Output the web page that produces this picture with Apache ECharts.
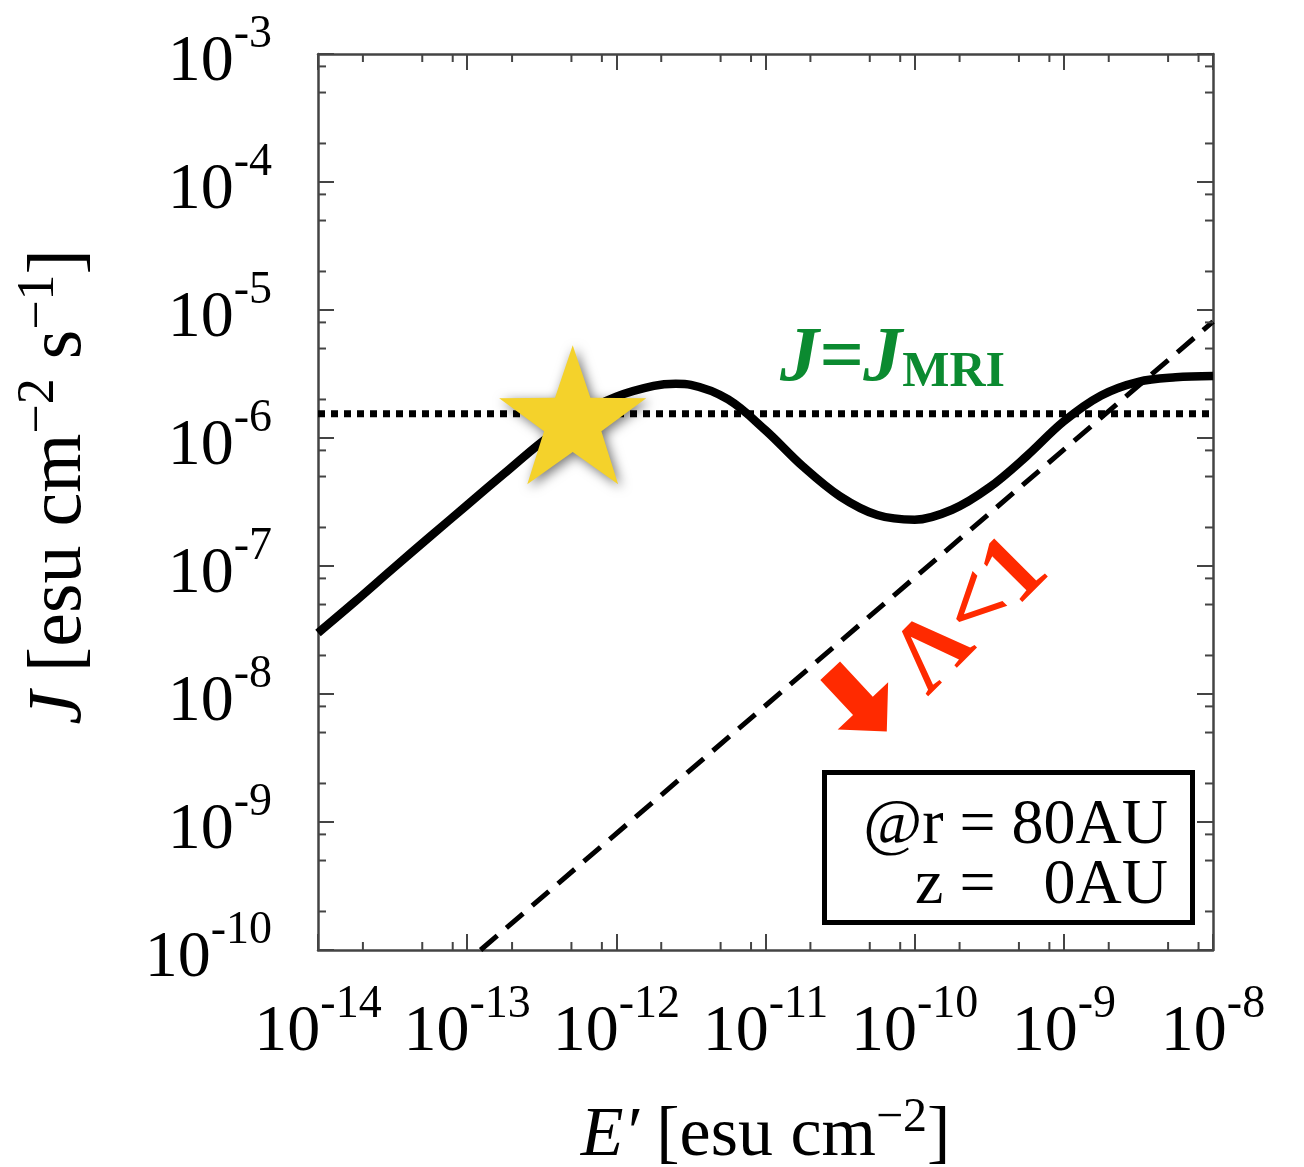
<!DOCTYPE html>
<html>
<head>
<meta charset="utf-8">
<script src="https://cdn.jsdelivr.net/npm/echarts@6/dist/echarts.min.js"></script>
<style>
  html, body { margin: 0; padding: 0; background: #fff; }
  #chart { width: 1304px; height: 1167px; }
</style>
</head>
<body>
<div id="chart"></div>
<script>
// Current density J against field E' at r = 80 AU, z = 0 AU
const E_VALUES = [1e-14, 1.78e-14, 3.16e-14, 5.62e-14, 1e-13, 1.78e-13, 3.16e-13, 5.62e-13,
  1e-12, 1.78e-12, 2.5e-12, 3.16e-12, 5.62e-12, 1e-11, 1.78e-11, 3.16e-11, 5.62e-11,
  1e-10, 1.78e-10, 3.16e-10, 5.62e-10, 1e-9, 1.78e-9, 3.16e-9, 5.62e-9, 1e-8];
const J_VALUES = [3.0e-8, 5.3e-8, 9.5e-8, 1.69e-7, 3.0e-7, 5.3e-7, 9.3e-7, 1.5e-6,
  2.1e-6, 2.55e-6, 2.65e-6, 2.6e-6, 2.0e-6, 1.15e-6, 6.0e-7, 3.5e-7, 2.5e-7,
  2.3e-7, 2.75e-7, 4.1e-7, 7.2e-7, 1.35e-6, 2.15e-6, 2.75e-6, 2.98e-6, 3.05e-6];

// MRI threshold current density
const J_MRI = 1.55e-6;
const MRI_E = [1e-14, 1e-8];

// Lambda = 1 boundary
const LAMBDA1_E = [1.23e-13, 1e-8];
const LAMBDA1_J = [1e-10, 8.1e-6];

// Marked operating point and annotation anchors
const STAR_POINT = [5.1e-13, 1.52e-6];
const ARROW_POINT = [4.2e-11, 8.8e-9];
const LAMBDA_LABEL_POINT = [2.41e-10, 4.0e-8];
const MRI_LABEL_POINT = [7.1e-11, 4.1e-6];

// Axis ranges and minor tick values (2, 5, 8 within each decade)
const X_RANGE = [1e-14, 1e-8];
const Y_RANGE = [1e-10, 1e-3];
const X_MINOR = [2e-14, 5e-14, 8e-14, 2e-13, 5e-13, 8e-13, 2e-12, 5e-12, 8e-12,
  2e-11, 5e-11, 8e-11, 2e-10, 5e-10, 8e-10, 2e-9, 5e-9, 8e-9];
const Y_MINOR = [2e-10, 5e-10, 8e-10, 2e-9, 5e-9, 8e-9, 2e-8, 5e-8, 8e-8,
  2e-7, 5e-7, 8e-7, 2e-6, 5e-6, 8e-6, 2e-5, 5e-5, 8e-5, 2e-4, 5e-4, 8e-4];

const SERIF = '"Liberation Serif", "Times New Roman", serif';
const AXIS_COLOR = '#444';
const RED = '#ff2a00';
const GREEN = '#0b8a30';
const NONE = 'rgba(0,0,0,0)';

function powerLabel(value) {
  const exp = Math.round(Math.log10(value));
  return '{b|10}{s|' + exp + '}';
}

const tickRich = {
  b: { fontFamily: SERIF, fontSize: 66, color: '#000', verticalAlign: 'bottom' },
  s: { fontFamily: SERIF, fontSize: 46, color: '#000', verticalAlign: 'bottom', padding: [0, 0, 38, 0] }
};

function titleRich(size) {
  return {
    t: { fontFamily: SERIF, fontSize: size, color: '#000', verticalAlign: 'bottom' },
    i: { fontFamily: SERIF, fontSize: size, color: '#000', fontStyle: 'italic', verticalAlign: 'bottom' },
    s: { fontFamily: SERIF, fontSize: Math.round(size * 0.68), color: '#000', verticalAlign: 'bottom', padding: [0, 0, Math.round(size * 0.43), 0] }
  };
}

function axisBase(extra) {
  return Object.assign({
    type: 'log',
    logBase: 10,
    interval: 1,
    axisLine: { show: true, onZero: false, lineStyle: { color: AXIS_COLOR, width: 2.5 } },
    axisTick: { show: true, inside: true, length: 16, lineStyle: { color: AXIS_COLOR, width: 2 } },
    minorTick: { show: false },
    splitLine: { show: false }
  }, extra);
}

// Short inward ticks at minor values, drawn on both opposite edges of the plot
function minorTicks(values, dir) {
  return {
    type: 'custom',
    coordinateSystem: 'cartesian2d',
    silent: true,
    clip: false,
    z: 6,
    data: values.map(v => dir === 'x' ? [v, Y_RANGE[0]] : [X_RANGE[0], v]),
    renderItem(params, api) {
      const cs = params.coordSys;
      const p = api.coord([api.value(0), api.value(1)]);
      const L = 8;
      const style = { stroke: AXIS_COLOR, lineWidth: 2 };
      if (dir === 'x') {
        const b = cs.y + cs.height;
        return { type: 'group', children: [
          { type: 'line', shape: { x1: p[0], y1: b, x2: p[0], y2: b - L }, style },
          { type: 'line', shape: { x1: p[0], y1: cs.y, x2: p[0], y2: cs.y + L }, style }
        ] };
      }
      const r = cs.x + cs.width;
      return { type: 'group', children: [
        { type: 'line', shape: { x1: cs.x, y1: p[1], x2: cs.x + L, y2: p[1] }, style },
        { type: 'line', shape: { x1: r, y1: p[1], x2: r - L, y2: p[1] }, style }
      ] };
    }
  };
}

// Five-pointed star outline
function starPath() {
  const pts = [];
  for (let i = 0; i < 10; i++) {
    const a = (-90 + 36 * i) * Math.PI / 180;
    const rad = i % 2 === 0 ? 1 : 0.39;
    pts.push((rad * Math.cos(a)).toFixed(4) + ' ' + (rad * Math.sin(a)).toFixed(4));
  }
  return 'path://M' + pts.join(' L') + ' Z';
}

const ARROW_PATH = 'path://M0 -13.5 L48 -13.5 L48 -34.5 L83 0 L48 34.5 L48 13.5 L0 13.5 Z';

const chart = echarts.init(document.getElementById('chart'), null, { renderer: 'canvas' });

chart.setOption({
  animation: false,
  backgroundColor: '#fff',
  grid: { left: 318, top: 54, right: 91, bottom: 217, containLabel: false, outerBoundsMode: 'none' },
  xAxis: [
    axisBase({
      position: 'bottom',
      min: X_RANGE[0], max: X_RANGE[1],
      axisLabel: { margin: 32, formatter: powerLabel, rich: tickRich },
      name: "{i|E′} {t|[esu cm}{s|−2}{t|]}",
      nameLocation: 'middle',
      nameGap: 144,
      nameTextStyle: { fontFamily: SERIF, fontSize: 70, color: '#000', rich: titleRich(70) }
    }),
    axisBase({
      position: 'top',
      min: X_RANGE[0], max: X_RANGE[1],
      axisLabel: { show: false }
    })
  ],
  yAxis: [
    axisBase({
      position: 'left',
      min: Y_RANGE[0], max: Y_RANGE[1],
      axisLabel: { margin: 46, formatter: powerLabel, rich: tickRich },
      name: "{i|J} {t|[esu cm}{s|−2}{t| s}{s|−1}{t|]}",
      nameLocation: 'middle',
      nameRotate: 90,
      nameGap: 220,
      nameTextStyle: { fontFamily: SERIF, fontSize: 76, color: '#000', rich: titleRich(76), padding: [0, 0, 0, 30] }
    }),
    axisBase({
      position: 'right',
      min: Y_RANGE[0], max: Y_RANGE[1],
      axisLabel: { show: false }
    })
  ],
  series: [
    {
      name: 'J',
      type: 'line',
      data: E_VALUES.map((e, i) => [e, J_VALUES[i]]),
      smooth: 0.35,
      showSymbol: false,
      lineStyle: { color: '#000', width: 8.5 },
      z: 3
    },
    {
      name: 'J_MRI',
      type: 'line',
      data: MRI_E.map(e => [e, J_MRI]),
      showSymbol: false,
      lineStyle: { color: '#000', width: 7, type: [7, 6], cap: 'butt' },
      z: 2
    },
    {
      name: 'Lambda = 1',
      type: 'line',
      data: LAMBDA1_E.map((e, i) => [e, LAMBDA1_J[i]]),
      showSymbol: false,
      lineStyle: { color: '#000', width: 5, type: [22, 12] },
      z: 2
    },
    {
      name: 'star',
      type: 'scatter',
      data: [STAR_POINT],
      symbol: starPath(),
      symbolSize: [147, 139],
      itemStyle: {
        color: '#f4d22b',
        opacity: 1,
        shadowBlur: 12,
        shadowColor: 'rgba(0,0,0,0.55)',
        shadowOffsetX: 3,
        shadowOffsetY: 3
      },
      z: 10
    },
    {
      name: 'arrow',
      type: 'scatter',
      data: [ARROW_POINT],
      symbol: ARROW_PATH,
      symbolSize: [83, 69],
      symbolRotate: -47,
      itemStyle: { color: RED, opacity: 1 },
      z: 10
    },
    {
      name: 'lambda label',
      type: 'scatter',
      data: [LAMBDA_LABEL_POINT],
      symbolSize: 1,
      itemStyle: { color: NONE, opacity: 1 },
      label: {
        show: true,
        position: 'inside',
        formatter: '{r|Λ<1}',
        rotate: 45,
        opacity: 1,
        rich: {
          r: { fontFamily: SERIF, fontSize: 98, fontWeight: 700, color: RED }
        }
      },
      z: 10
    },
    {
      name: 'mri label',
      type: 'scatter',
      data: [MRI_LABEL_POINT],
      symbolSize: 1,
      itemStyle: { color: NONE, opacity: 1 },
      label: {
        show: true,
        position: 'inside',
        opacity: 1,
        formatter: '{j|J=J}{m|MRI}',
        rich: {
          j: { fontFamily: SERIF, fontSize: 78, fontWeight: 'bold', fontStyle: 'italic', color: GREEN, verticalAlign: 'bottom' },
          m: { fontFamily: SERIF, fontSize: 50, fontWeight: 'bold', color: GREEN, verticalAlign: 'bottom' }
        }
      },
      z: 10
    },
    minorTicks(X_MINOR, 'x'),
    minorTicks(Y_MINOR, 'y')
  ],
  graphic: [
    {
      type: 'rect',
      z: 20,
      shape: { x: 824.5, y: 772.5, width: 368, height: 150 },
      style: { fill: '#fff', stroke: '#000', lineWidth: 5 }
    },
    {
      type: 'text',
      z: 21,
      x: 1168,
      y: 796,
      style: {
        text: '@r = 80AU\nz = \u20070AU',
        fontFamily: SERIF,
        fontSize: 64,
        lineHeight: 60,
        fill: '#000',
        align: 'right',
        verticalAlign: 'top'
      }
    }
  ]
});
</script>
</body>
</html>
